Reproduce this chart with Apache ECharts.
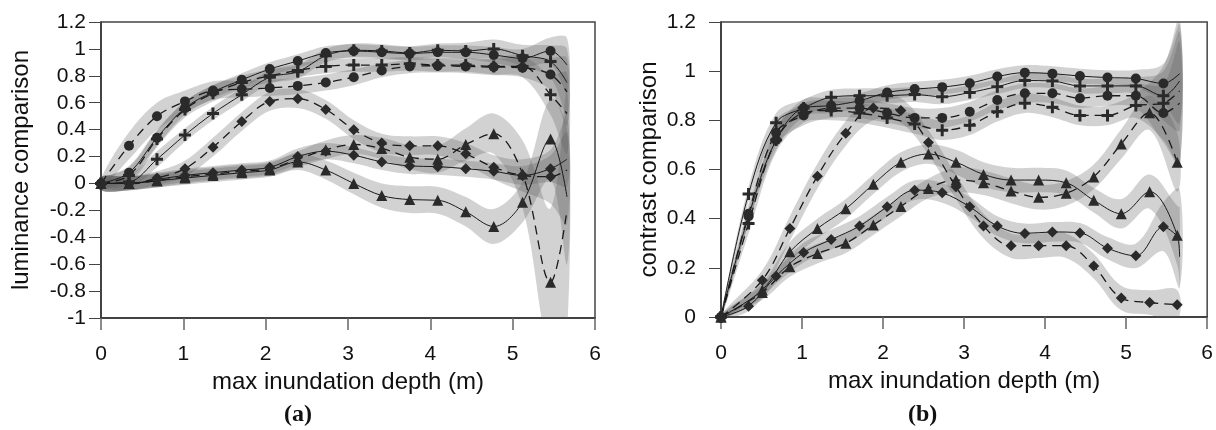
<!DOCTYPE html>
<html>
<head>
<meta charset="utf-8">
<script src="https://cdn.jsdelivr.net/npm/echarts@6/dist/echarts.min.js"></script>
<style>
  html, body { margin: 0; padding: 0; background: #fff; }
  #chart { width: 1216px; height: 430px; }
</style>
</head>
<body>
<div id="chart"></div>
<script>
// depth positions of the markers (last entry = end of curve, no marker)
const depthA = [0, 0.34, 0.68, 1.02, 1.36, 1.71, 2.05, 2.39, 2.73, 3.07, 3.41, 3.75, 4.09, 4.43, 4.77, 5.12, 5.46, 5.66];
const depthB = [0, 0.34, 0.68, 1.02, 1.36, 1.71, 2.05, 2.39, 2.73, 3.07, 3.41, 3.75, 4.09, 4.43, 4.77, 5.12, 5.46, 5.66];
const depthBShift = [0, 0.51, 0.85, 1.19, 1.54, 1.88, 2.22, 2.56, 2.9, 3.24, 3.58, 3.92, 4.26, 4.6, 4.94, 5.29, 5.63, 5.66];

// (a) luminance comparison
const lumCircleSolid  = [0, 0.08, 0.34, 0.56, 0.68, 0.77, 0.85, 0.91, 0.97, 0.985, 0.975, 0.965, 0.975, 0.975, 0.955, 0.93, 0.985, 0.88];
const lumPlusSolid    = [0, 0.01, 0.18, 0.36, 0.52, 0.66, 0.79, 0.83, 0.95, 0.99, 0.985, 0.97, 0.99, 0.985, 1.0, 0.95, 0.906, 0.75];
const lumCircleDash   = [0, 0.28, 0.50, 0.61, 0.69, 0.70, 0.71, 0.725, 0.75, 0.79, 0.84, 0.87, 0.875, 0.87, 0.865, 0.86, 0.81, 0.68];
const lumPlusDash     = [0, 0.06, 0.33, 0.55, 0.67, 0.75, 0.80, 0.84, 0.87, 0.88, 0.88, 0.89, 0.88, 0.88, 0.87, 0.87, 0.66, 0.52];
const lumDiamondSolid = [0, 0.0, 0.03, 0.06, 0.08, 0.10, 0.12, 0.20, 0.24, 0.21, 0.16, 0.13, 0.125, 0.11, 0.09, 0.06, 0.11, 0.18];
const lumDiamondDash  = [0, 0.0, 0.04, 0.11, 0.27, 0.46, 0.61, 0.63, 0.55, 0.40, 0.30, 0.28, 0.28, 0.22, 0.12, 0.06, 0.05, 0.10];
const lumTriSolid     = [0, 0.0, 0.02, 0.04, 0.06, 0.08, 0.10, 0.16, 0.10, 0.0, -0.09, -0.12, -0.125, -0.21, -0.32, -0.14, 0.33, -0.1];
const lumTriDash      = [0, 0.0, 0.02, 0.05, 0.07, 0.09, 0.11, 0.18, 0.25, 0.29, 0.26, 0.195, 0.18, 0.29, 0.37, 0.07, -0.735, -0.2];

// half widths of the grey bands in (a)
const lumCircleSolidCI  = [0.03, 0.05, 0.06, 0.05, 0.05, 0.05, 0.05, 0.05, 0.05, 0.05, 0.05, 0.05, 0.05, 0.05, 0.06, 0.07, 0.1, 0.2];
const lumPlusSolidCI    = [0.03, 0.05, 0.06, 0.05, 0.05, 0.05, 0.05, 0.05, 0.05, 0.05, 0.05, 0.05, 0.05, 0.06, 0.07, 0.08, 0.12, 0.25];
const lumCircleDashCI   = [0.04, 0.1, 0.1, 0.08, 0.07, 0.06, 0.06, 0.06, 0.06, 0.06, 0.05, 0.05, 0.05, 0.05, 0.06, 0.07, 0.12, 0.25];
const lumPlusDashCI     = [0.03, 0.06, 0.06, 0.06, 0.06, 0.05, 0.05, 0.05, 0.05, 0.05, 0.05, 0.05, 0.05, 0.05, 0.06, 0.08, 0.15, 0.3];
const lumDiamondSolidCI = [0.05, 0.05, 0.05, 0.05, 0.05, 0.05, 0.05, 0.06, 0.06, 0.06, 0.06, 0.06, 0.06, 0.06, 0.06, 0.07, 0.1, 0.2];
const lumDiamondDashCI  = [0.05, 0.05, 0.05, 0.06, 0.07, 0.07, 0.07, 0.07, 0.07, 0.07, 0.07, 0.07, 0.07, 0.08, 0.09, 0.12, 0.2, 0.4];
const lumTriSolidCI     = [0.05, 0.05, 0.05, 0.05, 0.05, 0.05, 0.05, 0.06, 0.07, 0.08, 0.09, 0.1, 0.1, 0.11, 0.13, 0.15, 0.3, 0.5];
const lumTriDashCI      = [0.05, 0.05, 0.05, 0.05, 0.05, 0.05, 0.05, 0.06, 0.07, 0.07, 0.08, 0.09, 0.1, 0.12, 0.15, 0.25, 0.55, 0.9];

// (b) contrast comparison
const conCircleSolid  = [0, 0.41, 0.72, 0.85, 0.86, 0.88, 0.913, 0.927, 0.935, 0.951, 0.978, 0.994, 0.99, 0.98, 0.974, 0.97, 0.95, 0.99];
const conPlusSolid    = [0, 0.50, 0.79, 0.85, 0.894, 0.90, 0.90, 0.905, 0.896, 0.913, 0.937, 0.962, 0.96, 0.94, 0.94, 0.94, 0.90, 0.96];
const conCircleDash   = [0, 0.42, 0.75, 0.82, 0.85, 0.85, 0.83, 0.81, 0.81, 0.835, 0.883, 0.91, 0.91, 0.89, 0.90, 0.90, 0.83, 0.87];
const conPlusDash     = [0, 0.38, 0.72, 0.83, 0.84, 0.83, 0.81, 0.785, 0.76, 0.78, 0.835, 0.87, 0.853, 0.82, 0.82, 0.86, 0.87, 0.92];
const conDiamondSolid = [0, 0.044, 0.166, 0.262, 0.315, 0.37, 0.448, 0.516, 0.505, 0.448, 0.37, 0.34, 0.346, 0.342, 0.28, 0.249, 0.367, 0.32];
const conDiamondDash  = [0, 0.15, 0.36, 0.573, 0.747, 0.85, 0.84, 0.71, 0.53, 0.37, 0.29, 0.29, 0.29, 0.207, 0.077, 0.059, 0.05, null];
const conTriSolid     = [0, 0.11, 0.265, 0.36, 0.44, 0.54, 0.63, 0.663, 0.63, 0.58, 0.557, 0.557, 0.546, 0.475, 0.42, 0.51, 0.333, 0.245];
const conTriDash      = [0, 0.1, 0.204, 0.258, 0.30, 0.374, 0.45, 0.523, 0.557, 0.546, 0.513, 0.487, 0.503, 0.57, 0.704, 0.831, 0.63, null];

const conCircleSolidCI  = [0.01, 0.03, 0.04, 0.035, 0.03, 0.03, 0.03, 0.03, 0.03, 0.03, 0.03, 0.03, 0.03, 0.03, 0.03, 0.035, 0.08, 0.2];
const conPlusSolidCI    = [0.01, 0.03, 0.04, 0.035, 0.03, 0.03, 0.03, 0.03, 0.03, 0.03, 0.03, 0.03, 0.03, 0.03, 0.03, 0.035, 0.1, 0.2];
const conCircleDashCI   = [0.01, 0.04, 0.05, 0.04, 0.04, 0.04, 0.04, 0.04, 0.04, 0.04, 0.04, 0.04, 0.04, 0.04, 0.04, 0.05, 0.12, 0.25];
const conPlusDashCI     = [0.01, 0.04, 0.05, 0.04, 0.04, 0.04, 0.04, 0.04, 0.04, 0.04, 0.04, 0.04, 0.04, 0.04, 0.04, 0.05, 0.15, 0.3];
const conDiamondSolidCI = [0.01, 0.02, 0.03, 0.04, 0.04, 0.04, 0.04, 0.04, 0.04, 0.04, 0.04, 0.04, 0.04, 0.04, 0.045, 0.05, 0.1, 0.2];
const conDiamondDashCI  = [0.01, 0.04, 0.05, 0.05, 0.05, 0.05, 0.05, 0.05, 0.05, 0.05, 0.05, 0.05, 0.05, 0.05, 0.05, 0.05, 0.06, 0.06];
const conTriSolidCI     = [0.01, 0.03, 0.04, 0.04, 0.04, 0.04, 0.04, 0.04, 0.05, 0.05, 0.05, 0.05, 0.05, 0.05, 0.06, 0.07, 0.12, 0.2];
const conTriDashCI      = [0.01, 0.03, 0.04, 0.04, 0.04, 0.04, 0.04, 0.04, 0.05, 0.05, 0.05, 0.05, 0.05, 0.05, 0.06, 0.07, 0.12, 0.12];

const plusPath = 'path://M3,0H5V3H8V5H5V8H3V5H0V3H3Z';
const fontSans = 'Liberation Sans, Arial, sans-serif';

function lineSeries(xs, ys, grid, symbol, dashed) {
  let data = [];
  for (let i = 0; i < ys.length; i++) {
    if (ys[i] === null) continue;
    if (i === ys.length - 1) data.push({ value: [xs[i], ys[i]], symbol: 'none' });
    else data.push([xs[i], ys[i]]);
  }
  return {
    type: 'line',
    xAxisIndex: grid,
    yAxisIndex: grid,
    data: data,
    smooth: 0.35,
    symbol: symbol,
    symbolSize: symbol === plusPath ? 12 : (symbol === 'circle' ? 10 : 11),
    showAllSymbol: true,
    lineStyle: { color: '#1a1a1a', width: dashed ? 1.3 : 1, type: dashed ? [9, 6] : 'solid' },
    itemStyle: { color: '#2a2a2a' },
    z: 3,
    silent: true
  };
}

function bandSeries(xs, ys, ci, grid) {
  return {
    type: 'custom',
    xAxisIndex: grid,
    yAxisIndex: grid,
    data: [[xs[0], ys[0]]],
    clip: true,
    silent: true,
    z: 1,
    renderItem: function (params, api) {
      let up = [], down = [];
      for (let i = 0; i < ys.length; i++) {
        if (ys[i] === null) continue;
        up.push(api.coord([xs[i], ys[i] + ci[i]]));
        down.unshift(api.coord([xs[i], ys[i] - ci[i]]));
      }
      return {
        type: 'polygon',
        shape: { points: up.concat(down), smooth: 0.35 },
        style: { fill: 'rgba(90,90,90,0.27)' }
      };
    }
  };
}

function xAxisCfg(grid) {
  return {
    type: 'value', gridIndex: grid, min: 0, max: 6, interval: 1,
    name: 'max inundation depth (m)', nameLocation: 'middle', nameGap: 50,
    nameTextStyle: { fontFamily: fontSans, fontSize: 24, color: '#111' },
    axisLine: { onZero: false, lineStyle: { color: '#333', width: 1.5 } },
    axisTick: { length: 12, lineStyle: { color: '#666', width: 1.5 } },
    axisLabel: { fontFamily: fontSans, fontSize: 21, color: '#111', margin: 26 },
    splitLine: { show: false }
  };
}

function yAxisCfg(grid, name, min, max, gap, margin) {
  return {
    type: 'value', gridIndex: grid, min: min, max: max, interval: 0.2,
    name: name, nameLocation: 'middle', nameGap: gap,
    nameTextStyle: { fontFamily: fontSans, fontSize: 24, color: '#111' },
    axisLine: { onZero: false, lineStyle: { color: '#333', width: 1.5 } },
    axisTick: { length: 12, lineStyle: { color: '#444', width: 1 } },
    axisLabel: { fontFamily: fontSans, fontSize: 21, color: '#111', margin: margin },
    splitLine: { show: false }
  };
}

let series = [
  bandSeries(depthA, lumCircleSolid, lumCircleSolidCI, 0),
  bandSeries(depthA, lumPlusSolid, lumPlusSolidCI, 0),
  bandSeries(depthA, lumCircleDash, lumCircleDashCI, 0),
  bandSeries(depthA, lumPlusDash, lumPlusDashCI, 0),
  bandSeries(depthA, lumDiamondSolid, lumDiamondSolidCI, 0),
  bandSeries(depthA, lumDiamondDash, lumDiamondDashCI, 0),
  bandSeries(depthA, lumTriSolid, lumTriSolidCI, 0),
  bandSeries(depthA, lumTriDash, lumTriDashCI, 0),
  lineSeries(depthA, lumCircleSolid, 0, 'circle', false),
  lineSeries(depthA, lumPlusSolid, 0, plusPath, false),
  lineSeries(depthA, lumCircleDash, 0, 'circle', true),
  lineSeries(depthA, lumPlusDash, 0, plusPath, true),
  lineSeries(depthA, lumDiamondSolid, 0, 'diamond', false),
  lineSeries(depthA, lumDiamondDash, 0, 'diamond', true),
  lineSeries(depthA, lumTriSolid, 0, 'triangle', false),
  lineSeries(depthA, lumTriDash, 0, 'triangle', true),

  bandSeries(depthB, conCircleSolid, conCircleSolidCI, 1),
  bandSeries(depthB, conPlusSolid, conPlusSolidCI, 1),
  bandSeries(depthB, conCircleDash, conCircleDashCI, 1),
  bandSeries(depthB, conPlusDash, conPlusDashCI, 1),
  bandSeries(depthB, conDiamondSolid, conDiamondSolidCI, 1),
  bandSeries(depthBShift, conDiamondDash, conDiamondDashCI, 1),
  bandSeries(depthBShift, conTriSolid, conTriSolidCI, 1),
  bandSeries(depthBShift, conTriDash, conTriDashCI, 1),
  lineSeries(depthB, conCircleSolid, 1, 'circle', false),
  lineSeries(depthB, conPlusSolid, 1, plusPath, false),
  lineSeries(depthB, conCircleDash, 1, 'circle', true),
  lineSeries(depthB, conPlusDash, 1, plusPath, true),
  lineSeries(depthB, conDiamondSolid, 1, 'diamond', false),
  lineSeries(depthBShift, conDiamondDash, 1, 'diamond', true),
  lineSeries(depthBShift, conTriSolid, 1, 'triangle', false),
  lineSeries(depthBShift, conTriDash, 1, 'triangle', true)
];

let chart = echarts.init(document.getElementById('chart'), null, { renderer: 'canvas' });
chart.setOption({
  animation: false,
  backgroundColor: '#fff',
  grid: [
    { left: 101, top: 22, width: 494, height: 296, show: true, borderColor: '#444', borderWidth: 1.5 },
    { left: 721, top: 22, width: 490, height: 295, show: true, borderColor: '#444', borderWidth: 1.5 }
  ],
  xAxis: [xAxisCfg(0), xAxisCfg(1)],
  yAxis: [
    yAxisCfg(0, 'luminance comparison', -1, 1.2, 68, 15),
    yAxisCfg(1, 'contrast comparison', 0, 1.2, 60, 25)
  ],
  graphic: [
    { type: 'text', left: 284, top: 403, style: { text: '(a)', font: 'bold 24px "Liberation Serif", serif', fill: '#111' } },
    { type: 'text', left: 908, top: 403, style: { text: '(b)', font: 'bold 24px "Liberation Serif", serif', fill: '#111' } }
  ],
  series: series
});
</script>
</body>
</html>
